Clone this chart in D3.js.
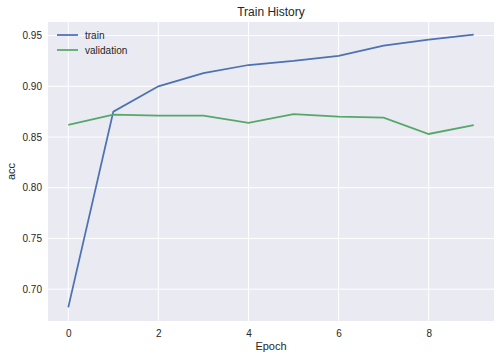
<!DOCTYPE html>
<html>
<head>
<meta charset="utf-8">
<script src="https://cdn.jsdelivr.net/npm/d3@7"></script>
<style>
  body { margin: 0; background: #fff; }
  text { font-family: "Liberation Sans", Arial, sans-serif; fill: #262626; }
</style>
</head>
<body>
<div id="canvas"></div>
<script>
// data
var epochs = [0, 1, 2, 3, 4, 5, 6, 7, 8, 9];
var trainAcc = [0.682, 0.875, 0.900, 0.913, 0.921, 0.925, 0.930, 0.940, 0.946, 0.951];
var valAcc = [0.862, 0.872, 0.871, 0.871, 0.864, 0.8725, 0.870, 0.869, 0.853, 0.8617];
var xTicks = [0, 2, 4, 6, 8];
var yTicks = [0.70, 0.75, 0.80, 0.85, 0.90, 0.95];

var w = 501, h = 359;
// plot box (window.top is read-only, so no "top" here)
var padL = 48, padR = 494, padT = 22, padB = 321;

var svg = d3.select("#canvas").append("svg").attr("width", w).attr("height", h);

var x = d3.scaleLinear().domain([-0.45, 9.45]).range([padL, padR]);
var y = d3.scaleLinear().domain([0.6686, 0.9634]).range([padB, padT]);

svg.append("rect")
    .attr("x", padL).attr("y", padT)
    .attr("width", padR - padL).attr("height", padB - padT)
    .style("fill", "#eaeaf2");

// grid lines
svg.append("g").selectAll("line").data(xTicks).enter().append("line")
    .attr("x1", d => x(d)).attr("x2", d => x(d))
    .attr("y1", padT).attr("y2", padB)
    .style("stroke", "#fff").style("stroke-width", 1);
svg.append("g").selectAll("line").data(yTicks).enter().append("line")
    .attr("x1", padL).attr("x2", padR)
    .attr("y1", d => y(d)).attr("y2", d => y(d))
    .style("stroke", "#fff").style("stroke-width", 1);

// axes (no tick marks, no domain line)
var xAxis = svg.append("g").attr("transform", "translate(0," + padB + ")")
    .call(d3.axisBottom(x).tickValues(xTicks).tickSize(0).tickPadding(9).tickFormat(d3.format("d")));
var yAxis = svg.append("g").attr("transform", "translate(" + padL + ",0)")
    .call(d3.axisLeft(y).tickValues(yTicks).tickSize(0).tickPadding(6).tickFormat(d3.format(".2f")));
[xAxis, yAxis].forEach(function(a) {
  a.select(".domain").remove();
  a.selectAll("text").style("font-size", "10px").style("font-family", "Liberation Sans, Arial, sans-serif").attr("fill", "#262626");
});

var line = d3.line().x((d, i) => x(epochs[i])).y(d => y(d));

svg.append("path").datum(trainAcc).attr("d", line)
    .style("fill", "none").style("stroke", "#4c72b0").style("stroke-width", 1.75);
svg.append("path").datum(valAcc).attr("d", line)
    .style("fill", "none").style("stroke", "#55a868").style("stroke-width", 1.75);

// title and labels
svg.append("text").attr("x", (padL + padR) / 2).attr("y", 16)
    .attr("text-anchor", "middle").style("font-size", "12px").text("Train History");
svg.append("text").attr("x", (padL + padR) / 2).attr("y", 350)
    .attr("text-anchor", "middle").style("font-size", "11px").text("Epoch");
svg.append("text").attr("transform", "translate(15," + ((padT + padB) / 2) + ") rotate(-90)")
    .attr("text-anchor", "middle").style("font-size", "11px").text("acc");

// legend
var legendItems = [["train", "#4c72b0"], ["validation", "#55a868"]];
var lg = svg.append("g").selectAll("g").data(legendItems).enter().append("g")
    .attr("transform", (d, i) => "translate(57," + (35 + i * 15) + ")");
lg.append("line").attr("x1", 0).attr("x2", 21).attr("y1", 0).attr("y2", 0)
    .style("stroke", d => d[1]).style("stroke-width", 1.75);
lg.append("text").attr("x", 28).attr("y", 3.5).style("font-size", "10px").text(d => d[0]);
</script>
</body>
</html>
